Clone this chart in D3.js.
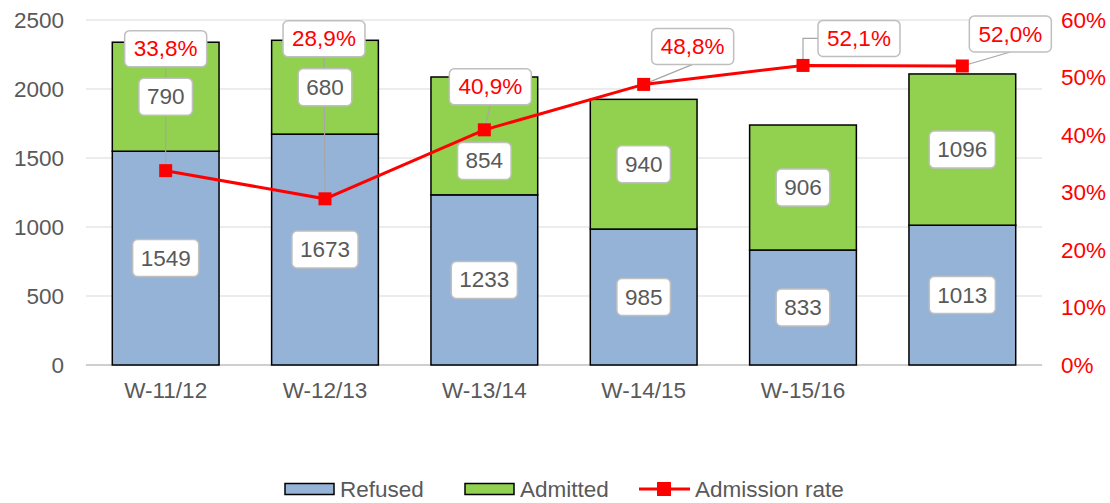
<!DOCTYPE html>
<html>
<head>
<meta charset="utf-8">
<script src="https://cdn.jsdelivr.net/npm/d3@7"></script>
<style>
  body { margin: 0; background: #fff; }
  text { font-family: "Liberation Sans", Arial, sans-serif; }
</style>
</head>
<body>
<div id="chart"></div>
<script>
// data
const categories = ['W-11/12', 'W-12/13', 'W-13/14', 'W-14/15', 'W-15/16', ''];
const refused = [1549, 1673, 1233, 985, 833, 1013];
const admitted = [790, 680, 854, 940, 906, 1096];
const admissionRate = [33.8, 28.9, 40.9, 48.8, 52.1, 52.0];
const leftTicks = [0, 500, 1000, 1500, 2000, 2500];
const rightTicks = [0, 10, 20, 30, 40, 50, 60];

// where the rate labels sit relative to their point (pixels)
const rateLabelShift = [[0, -122], [-1, -160], [6, -43], [49, -38], [56, -27], [48, -32]];
// the 854 label was pushed down under the line in the original
const admittedLabelShift = [0, 0, 25, 0, 0, 0];

const width = 1110;
const height = 503;
const plot = { left: 86, right: 1042, top: 20, bottom: 365 };
const fontSize = '22.5px';
const textGrey = '#595959';
const red = '#ff0000';

const svg = d3.select('#chart')
  .append('svg')
  .attr('width', width)
  .attr('height', height);

const x = d3.scaleBand()
  .domain(d3.range(categories.length))
  .range([plot.left, plot.right])
  .paddingInner(0.33)
  .paddingOuter(0.165);

const y = d3.scaleLinear()
  .domain([0, 2500])
  .range([plot.bottom, plot.top]);

const yRate = d3.scaleLinear()
  .domain([0, 60])
  .range([plot.bottom, plot.top]);

// gridlines
svg.append('g')
  .selectAll('line')
  .data(leftTicks.slice(1))
  .enter()
  .append('line')
  .attr('x1', plot.left)
  .attr('x2', plot.right)
  .attr('y1', d => y(d))
  .attr('y2', d => y(d))
  .attr('stroke', '#d9d9d9')
  .attr('stroke-width', 1);

// left axis
const leftAxis = svg.append('g')
  .attr('transform', `translate(${plot.left},0)`)
  .call(d3.axisLeft(y).tickValues(leftTicks).tickSize(0).tickPadding(22).tickFormat(d3.format('d')));
leftAxis.select('.domain').remove();
leftAxis.selectAll('text')
  .style('font-size', fontSize)
  .attr('fill', textGrey);

// right axis
const rightAxis = svg.append('g')
  .attr('transform', `translate(${plot.right},0)`)
  .call(d3.axisRight(yRate).tickValues(rightTicks).tickSize(0).tickPadding(19).tickFormat(d => d + '%'));
rightAxis.select('.domain').remove();
rightAxis.selectAll('text')
  .style('font-size', fontSize)
  .attr('fill', red);

// bottom axis
const bottomAxis = svg.append('g')
  .attr('transform', `translate(0,${plot.bottom})`)
  .call(d3.axisBottom(x).tickSize(0).tickPadding(17).tickFormat(i => categories[i]));
bottomAxis.select('.domain')
  .attr('stroke', '#bfbfbf')
  .attr('stroke-width', 1.5)
  .attr('d', `M${plot.left},0H${plot.right}`);
bottomAxis.selectAll('text')
  .style('font-size', fontSize)
  .attr('fill', textGrey);

// stacked bars
const bars = svg.append('g');
bars.selectAll('.refused')
  .data(refused)
  .enter()
  .append('rect')
  .attr('class', 'refused')
  .attr('x', (d, i) => x(i))
  .attr('width', x.bandwidth())
  .attr('y', d => y(d))
  .attr('height', d => y(0) - y(d))
  .attr('fill', '#95b3d7')
  .attr('stroke', '#000')
  .attr('stroke-width', 1.5);

bars.selectAll('.admitted')
  .data(admitted)
  .enter()
  .append('rect')
  .attr('class', 'admitted')
  .attr('x', (d, i) => x(i))
  .attr('width', x.bandwidth())
  .attr('y', (d, i) => y(refused[i] + d))
  .attr('height', (d, i) => y(refused[i]) - y(refused[i] + d))
  .attr('fill', '#92d050')
  .attr('stroke', '#000')
  .attr('stroke-width', 1.5);

const cx = i => x(i) + x.bandwidth() / 2;

// rate label boxes positions
const rateBoxes = admissionRate.map((r, i) => {
  const px = cx(i);
  const py = yRate(r);
  return { px, py, bx: px + rateLabelShift[i][0], by: py + rateLabelShift[i][1], w: 82, h: 36, text: r.toFixed(1).replace('.', ',') + '%' };
});

// leader lines
svg.append('g')
  .selectAll('path')
  .data(rateBoxes)
  .enter()
  .append('path')
  .attr('fill', 'none')
  .attr('stroke', '#a6a6a6')
  .attr('stroke-width', 1.2)
  .attr('d', b => {
    const bottom = b.by + b.h / 2;
    if (b.py - bottom < 11) {
      return `M${b.px},${b.py}V${b.by}H${b.bx - b.w / 2}`;
    }
    return `M${b.px},${b.py}L${b.bx},${bottom}`;
  });

// value label boxes on the bars
function boxedLabel(g, cxp, cyp, text, color, minW, h) {
  const grp = g.append('g');
  const rect = grp.append('rect');
  const t = grp.append('text')
    .attr('x', cxp)
    .attr('y', cyp)
    .attr('text-anchor', 'middle')
    .attr('dominant-baseline', 'central')
    .style('font-size', fontSize)
    .attr('fill', color)
    .text(text);
  const w = Math.max(minW, t.node().getComputedTextLength() + 16);
  rect.attr('x', cxp - w / 2)
    .attr('y', cyp - h / 2)
    .attr('width', w)
    .attr('height', h)
    .attr('rx', 5)
    .attr('fill', '#fff')
    .attr('stroke', '#bfbfbf')
    .attr('stroke-width', 1.5);
}

const valueLabels = svg.append('g');
refused.forEach((d, i) => {
  boxedLabel(valueLabels, cx(i), y(d / 2), d, textGrey, 0, 37);
});
admitted.forEach((d, i) => {
  boxedLabel(valueLabels, cx(i), y(refused[i] + d / 2) + admittedLabelShift[i], d, textGrey, 0, 37);
});

// admission rate line
const line = d3.line()
  .x((d, i) => cx(i))
  .y(d => yRate(d));

svg.append('path')
  .datum(admissionRate)
  .attr('fill', 'none')
  .attr('stroke', red)
  .attr('stroke-width', 3)
  .attr('d', line);

svg.append('g')
  .selectAll('rect')
  .data(admissionRate)
  .enter()
  .append('rect')
  .attr('x', (d, i) => cx(i) - 6.5)
  .attr('y', d => yRate(d) - 6.5)
  .attr('width', 13)
  .attr('height', 13)
  .attr('fill', red);

// rate labels
const rateLabels = svg.append('g');
rateBoxes.forEach(b => {
  boxedLabel(rateLabels, b.bx, b.by, b.text, red, b.w, b.h);
});

// legend
const legend = svg.append('g');
const legendY = 489;
const legendItems = [
  { name: 'Refused', fill: '#95b3d7', x: 285 },
  { name: 'Admitted', fill: '#92d050', x: 465 }
];
legendItems.forEach(item => {
  legend.append('rect')
    .attr('x', item.x)
    .attr('y', legendY - 5.5)
    .attr('width', 49)
    .attr('height', 11)
    .attr('fill', item.fill)
    .attr('stroke', '#000')
    .attr('stroke-width', 1.5);
  legend.append('text')
    .attr('x', item.x + 55)
    .attr('y', legendY)
    .attr('dominant-baseline', 'central')
    .style('font-size', fontSize)
    .attr('fill', textGrey)
    .text(item.name);
});
legend.append('line')
  .attr('x1', 639)
  .attr('x2', 690)
  .attr('y1', legendY)
  .attr('y2', legendY)
  .attr('stroke', red)
  .attr('stroke-width', 3);
legend.append('rect')
  .attr('x', 657)
  .attr('y', legendY - 7)
  .attr('width', 14)
  .attr('height', 14)
  .attr('fill', red);
legend.append('text')
  .attr('x', 695)
  .attr('y', legendY)
  .attr('dominant-baseline', 'central')
  .style('font-size', fontSize)
  .attr('fill', textGrey)
  .text('Admission rate');
</script>
</body>
</html>
